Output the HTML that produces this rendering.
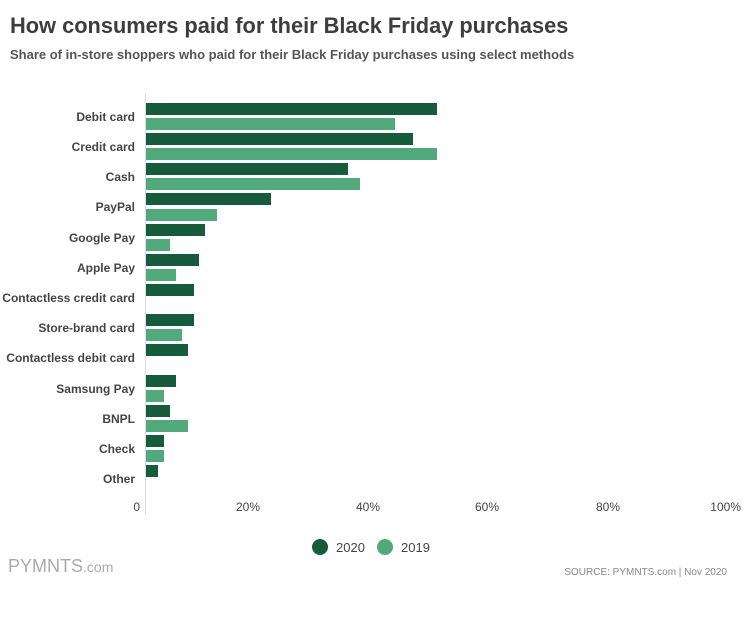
<!DOCTYPE html>
<html><head><meta charset="utf-8"><style>
body{margin:0;background:#fff;font-family:"Liberation Sans",sans-serif;}
.wrap{position:relative;width:750px;height:640px;overflow:hidden;}
.t{position:absolute;white-space:nowrap;}
</style></head><body><div class="wrap">
<div class="t" style="left:10px;top:13px;font-size:21.8px;font-weight:bold;color:#3d3d3d;">How consumers paid for their Black Friday purchases</div>
<div class="t" style="left:10px;top:47px;font-size:13px;font-weight:bold;color:#555;">Share of in-store shoppers who paid for their Black Friday purchases using select methods</div>
<svg width="750" height="640" style="position:absolute;left:0;top:0" font-family="Liberation Sans, sans-serif">
<line x1="145.5" y1="93" x2="145.5" y2="515" stroke="#ddd" stroke-width="1"/>
<g font-size="12" font-weight="bold" fill="#444" text-anchor="end">
<text x="135" y="121">Debit card</text>
<text x="135" y="151">Credit card</text>
<text x="135" y="181">Cash</text>
<text x="135" y="211">PayPal</text>
<text x="135" y="242">Google Pay</text>
<text x="135" y="272">Apple Pay</text>
<text x="135" y="302">Contactless credit card</text>
<text x="135" y="332">Store-brand card</text>
<text x="135" y="362">Contactless debit card</text>
<text x="135" y="393">Samsung Pay</text>
<text x="135" y="423">BNPL</text>
<text x="135" y="453">Check</text>
<text x="135" y="483">Other</text>
</g>
<g fill="#165c3c">
<rect x="146" y="103" width="291" height="12"/>
<rect x="146" y="133" width="267" height="12"/>
<rect x="146" y="163" width="202" height="12"/>
<rect x="146" y="193" width="125" height="12"/>
<rect x="146" y="224" width="59" height="12"/>
<rect x="146" y="254" width="53" height="12"/>
<rect x="146" y="284" width="48" height="12"/>
<rect x="146" y="314" width="48" height="12"/>
<rect x="146" y="344" width="42" height="12"/>
<rect x="146" y="375" width="30" height="12"/>
<rect x="146" y="405" width="24" height="12"/>
<rect x="146" y="435" width="18" height="12"/>
<rect x="146" y="465" width="12" height="12"/>
</g>
<g fill="#51a97c">
<rect x="146" y="118" width="249" height="12"/>
<rect x="146" y="148" width="291" height="12"/>
<rect x="146" y="178" width="214" height="12"/>
<rect x="146" y="209" width="71" height="12"/>
<rect x="146" y="239" width="24" height="12"/>
<rect x="146" y="269" width="30" height="12"/>
<rect x="146" y="329" width="36" height="12"/>
<rect x="146" y="390" width="18" height="12"/>
<rect x="146" y="420" width="42" height="12"/>
<rect x="146" y="450" width="18" height="12"/>
</g>
<g font-size="12" fill="#444" text-anchor="end">
<text x="140" y="511">0</text>
<text x="260" y="511">20%</text>
<text x="380" y="511">40%</text>
<text x="499" y="511">60%</text>
<text x="620" y="511">80%</text>
<text x="741" y="511">100%</text>
</g>
<circle cx="320" cy="547" r="8" fill="#165c3c"/>
<text x="336" y="552" font-size="13" fill="#444">2020</text>
<circle cx="385" cy="547" r="8" fill="#51a97c"/>
<text x="401" y="552" font-size="13" fill="#444">2019</text>
<text x="8" y="572" font-size="18" fill="#aaa">PYMNTS<tspan font-size="14">.com</tspan></text>
<text x="727" y="575" font-size="10" fill="#888" text-anchor="end">SOURCE: PYMNTS.com  |  Nov 2020</text>
</svg>
</div></body></html>
